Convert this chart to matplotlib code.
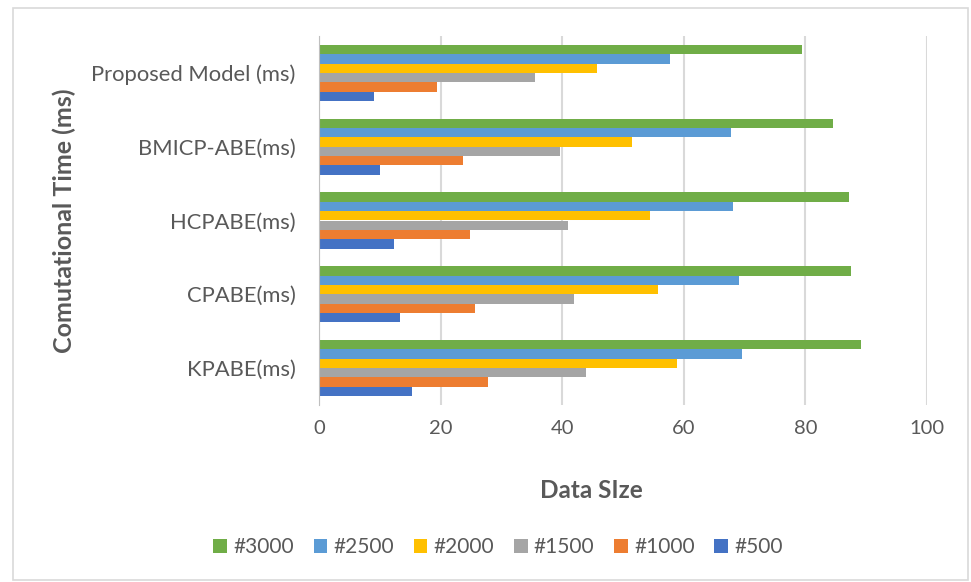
import numpy as np
import matplotlib
matplotlib.use("Agg")
import matplotlib.pyplot as plt
from matplotlib.patches import Rectangle

plt.rcParams['font.family'] = ['Lato', 'DejaVu Sans']

# data
models = ["Proposed Model (ms)", "BMICP-ABE(ms)", "HCPABE(ms)", "CPABE(ms)", "KPABE(ms)"]
series_names = ["#3000", "#2500", "#2000", "#1500", "#1000", "#500"]
s3000 = [79.4, 84.5, 87.1, 87.5, 89.1]
s2500 = [57.7, 67.7, 68.1, 69.1, 69.5]
s2000 = [45.8, 51.5, 54.4, 55.8, 58.8]
s1500 = [35.5, 39.7, 40.9, 41.9, 43.9]
s1000 = [19.4, 23.7, 24.9, 25.7, 27.8]
s500 = [9.1, 10.1, 12.4, 13.3, 15.3]
colors = ["#70AD47", "#5B9BD5", "#FFC000", "#A5A5A5", "#ED7D31", "#4472C4"]
xticks = [0, 20, 40, 60, 80, 100]

txt = "#595959"

fig = plt.figure(figsize=(9.71, 5.82), dpi=100)
# outer chart border
fig.patches.append(Rectangle((13/971, 2/582), 955/971, 572/582, transform=fig.transFigure,
                             fill=False, edgecolor="#d9d9d9", lw=1.2))
ax = fig.add_axes([319/971, 1-405/582, 608/971, 369/582])

allvals = [s3000, s2500, s2000, s1500, s1000, s500]
y = np.arange(len(models))
h = 0.127
for i, (vals, name, c) in enumerate(zip(allvals, series_names, colors)):
    off = (i - 2.5) * h
    ax.barh(y + off, vals, height=h, color=c, label=name, zorder=3)

ax.set_ylim(len(models) - 0.5, -0.5)
ax.set_xlim(0, 100)
ax.set_xticks(xticks)
ax.set_yticks(y)
ax.set_yticklabels(models)
ax.tick_params(axis='y', length=0, labelsize=15.8, colors=txt, pad=17)
ax.tick_params(axis='x', length=0, labelsize=14.5, colors=txt, pad=11)
ax.grid(axis='x', color="#d9d9d9", lw=1.5, zorder=0)
for s in ["top", "right", "bottom"]:
    ax.spines[s].set_visible(False)
ax.spines["left"].set_color("#bfbfbf")
ax.spines["left"].set_zorder(4)

fig.text(591/971, 1-490/582, "Data SIze", fontsize=17.5, fontweight="bold", color=txt,
         ha="center", va="center")
fig.text(64/971, 1-221/582, "Comutational Time (ms)", rotation=90, fontsize=18,
         fontweight="bold", color=txt, ha="center", va="center")

fig.legend(loc="center", bbox_to_anchor=(498/971, 1-547/582), ncol=6, frameon=False,
           fontsize=15, labelcolor=txt, handlelength=0.65, handleheight=0.65,
           handletextpad=0.3, columnspacing=0.95)

fig.savefig("out.png", dpi=100)
